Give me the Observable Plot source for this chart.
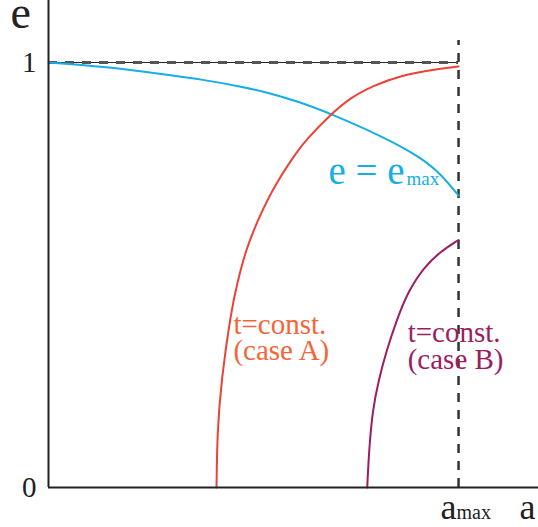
<!DOCTYPE html>
<html>
<head>
<meta charset="utf-8">
<script src="https://cdn.jsdelivr.net/npm/d3@7"></script>
<script src="https://cdn.jsdelivr.net/npm/@observablehq/plot@0.6"></script>
<style>
  html, body { margin: 0; padding: 0; background: #fff; }
  #chart svg { display: block; }
  #chart svg, #chart svg text { font-family: "Liberation Serif", "Times New Roman", serif !important; }
</style>
</head>
<body>
<div id="chart"></div>
<script>
// Semi-major axis a (in units of a_max) and eccentricity e.
const aMax = 1;

// Upper bound e = e_max(a)
const emaxA = [0, 0.143, 0.224, 0.305, 0.371, 0.468, 0.533, 0.615, 0.688, 0.826, 0.907, 0.956, 1];
const emaxE = [1, 0.989, 0.9795, 0.9694, 0.9605, 0.944, 0.930, 0.9066, 0.880, 0.821, 0.777, 0.739, 0.687];

// Constant-time curve, case A
const caseAA = [0.4098, 0.4115, 0.4212, 0.4456, 0.4602, 0.4805, 0.5129, 0.5537, 0.6080, 0.6268, 0.6878, 0.7366, 0.7927, 0.8585, 0.9390, 1];
const caseAE = [0, 0.1271, 0.2518, 0.4165, 0.4800, 0.5576, 0.6353, 0.7153, 0.7929, 0.8165, 0.8776, 0.9176, 0.9459, 0.9694, 0.9835, 0.9906];

// Constant-time curve, case B
const caseBA = [0.7773, 0.7817, 0.7902, 0.8049, 0.8244, 0.8488, 0.8756, 0.9146, 0.9561, 1];
const caseBE = [0, 0.0871, 0.1812, 0.2518, 0.3224, 0.3929, 0.4588, 0.5176, 0.5553, 0.5824];

const yTicks = [0, 1];

const toRows = (xs, ys) => xs.map((a, i) => ({a, e: ys[i]}));
const emax = toRows(emaxA, emaxE);
const caseA = toRows(caseAA, caseAE);
const caseB = toRows(caseBA, caseBE);

const serif = "'Liberation Serif', 'Times New Roman', serif";
const blue = "#17ade6";
const red = "#ec4237";
const orange = "#f4663a";
const purple = "#9c1d62";
const ink = "#222";

const chart = Plot.plot({
  width: 538,
  height: 527,
  marginLeft: 48,
  marginRight: 0,
  marginTop: 0,
  marginBottom: 40,
  style: {fontFamily: serif, background: "#fff"},
  x: {domain: [0, 1.195], axis: null},
  y: {domain: [0, 1.146]},
  marks: [
    // e = 1 reference: thin solid line under grey dashes
    Plot.ruleY([1], {x1: 0, x2: aMax, stroke: ink, strokeWidth: 1}),
    Plot.ruleY([1], {x1: 0, x2: aMax, stroke: "#555", strokeWidth: 3, strokeDasharray: "9,8"}),
    // a = a_max boundary
    Plot.ruleX([aMax], {y1: 0, y2: 1.052, stroke: "#333", strokeWidth: 2.5, strokeDasharray: "9,8"}),

    Plot.line(emax, {x: "a", y: "e", curve: "basis", stroke: blue, strokeWidth: 2}),
    Plot.line(caseA, {x: "a", y: "e", curve: "basis", stroke: red, strokeWidth: 2}),
    Plot.line(caseB, {x: "a", y: "e", curve: "basis", stroke: purple, strokeWidth: 2}),

    // axes
    Plot.ruleX([0], {stroke: ink, strokeWidth: 2}),
    Plot.ruleY([0], {stroke: ink, strokeWidth: 2}),
    Plot.axisY(yTicks, {tickSize: 0, tickPadding: 12, fontSize: 29, fontFamily: serif, fill: ink, label: null, tickFormat: d => String(d)}),

    // axis names
    Plot.text(["e"], {frameAnchor: "top-left", dx: -38, dy: 27, lineAnchor: "bottom", textAnchor: "start", fontSize: 46, fontFamily: serif, fill: ink}),
    Plot.text(["a"], {x: 1.195, y: 0, dx: -3, dy: 31, lineAnchor: "bottom", textAnchor: "end", fontSize: 36, fontFamily: serif, fill: ink}),
    Plot.text(["a"], {x: aMax, y: 0, dx: -18, dy: 31, lineAnchor: "bottom", textAnchor: "start", fontSize: 36, fontFamily: serif, fill: ink}),
    Plot.text(["max"], {x: aMax, y: 0, dx: -2, dy: 31, lineAnchor: "bottom", textAnchor: "start", fontSize: 20, fontFamily: serif, fill: ink}),

    // curve labels
    Plot.text(["e = e"], {x: 0.683, y: 0.715, lineAnchor: "bottom", textAnchor: "start", fontSize: 39, fontFamily: serif, fill: blue}),
    Plot.text(["max"], {x: 0.873, y: 0.711, lineAnchor: "bottom", textAnchor: "start", fontSize: 19, fontFamily: serif, fill: blue}),
    Plot.text(["t=const.\n(case A)"], {x: 0.451, y: 0.299, lineAnchor: "bottom", textAnchor: "start", lineHeight: 0.9, fontSize: 29, fontFamily: serif, fill: orange}),
    Plot.text(["t=const.\n(case B)"], {x: 0.876, y: 0.28, lineAnchor: "bottom", textAnchor: "start", lineHeight: 0.92, fontSize: 29, fontFamily: serif, fill: purple})
  ]
});

document.getElementById("chart").appendChild(chart);
</script>
</body>
</html>
